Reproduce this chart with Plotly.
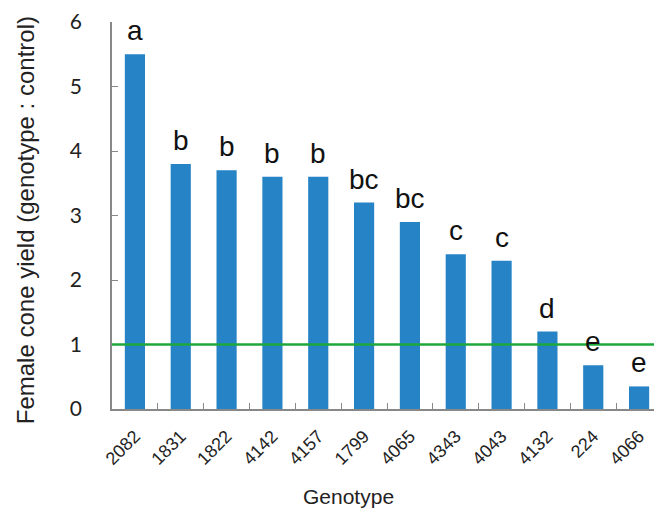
import plotly.graph_objects as go

genotypes = ["2082", "1831", "1822", "4142", "4157", "1799", "4065", "4343", "4043", "4132", "224", "4066"]
yield_ratio = [5.5, 3.8, 3.7, 3.6, 3.6, 3.2, 2.9, 2.4, 2.3, 1.2, 0.68, 0.35]
letters = ["a", "b", "b", "b", "b", "bc", "bc", "c", "c", "d", "e", "e"]
control_level = 1.0

fig = go.Figure()
fig.add_trace(go.Bar(x=genotypes, y=yield_ratio, marker=dict(color="#2683C6", line=dict(width=0)),
                     showlegend=False))
fig.add_shape(type="line", xref="x domain", x0=0, x1=0.995, yref="y", y0=control_level, y1=control_level,
              line=dict(color="#1EA83C", width=2.5), layer="above")

for i, (v, t) in enumerate(zip(yield_ratio, letters)):
    fig.add_annotation(x=i, y=v, xref="x", yref="y", text=t, showarrow=False, yanchor="bottom", yshift=6,
                       font=dict(family="Liberation Sans, Arial", size=28, color="#111"))

fig.add_annotation(x=0.43, y=-0.225, xref="paper", yref="paper", text="Genotype",
                   showarrow=False, yanchor="middle",
                   font=dict(family="Liberation Sans, Arial", size=21, color="#222"))

fig.add_annotation(x=-0.158, y=0.488, xref="paper", yref="paper",
                   text="Female cone yield (genotype : control)", textangle=-90,
                   showarrow=False, xanchor="center", yanchor="middle",
                   font=dict(family="Liberation Sans, Arial", size=24, color="#222"))

fig.update_layout(
    width=654, height=504,
    margin=dict(l=104, r=0, t=14, b=103),
    paper_bgcolor="white", plot_bgcolor="white",
    bargap=0.56,
    xaxis=dict(type="category", tickangle=-45, ticks="inside", tickson="boundaries",
               ticklen=6, tickcolor="#888", showline=True, linecolor="#888", linewidth=1.5,
               tickfont=dict(family="Liberation Sans, Arial", size=18, color="#222"),
               ticklabelstandoff=8,
               range=[-0.5, 11.5], automargin=False),
    yaxis=dict(range=[0, 6], dtick=1, ticks="inside", ticklen=6, tickcolor="#888",
               showline=True, linecolor="#888", linewidth=1.5, showgrid=False, zeroline=False,
               tickfont=dict(family="Lato, Liberation Sans", size=21, color="#222"),
               ticklabelstandoff=24, automargin=False),
)

fig.write_html("out.html")
